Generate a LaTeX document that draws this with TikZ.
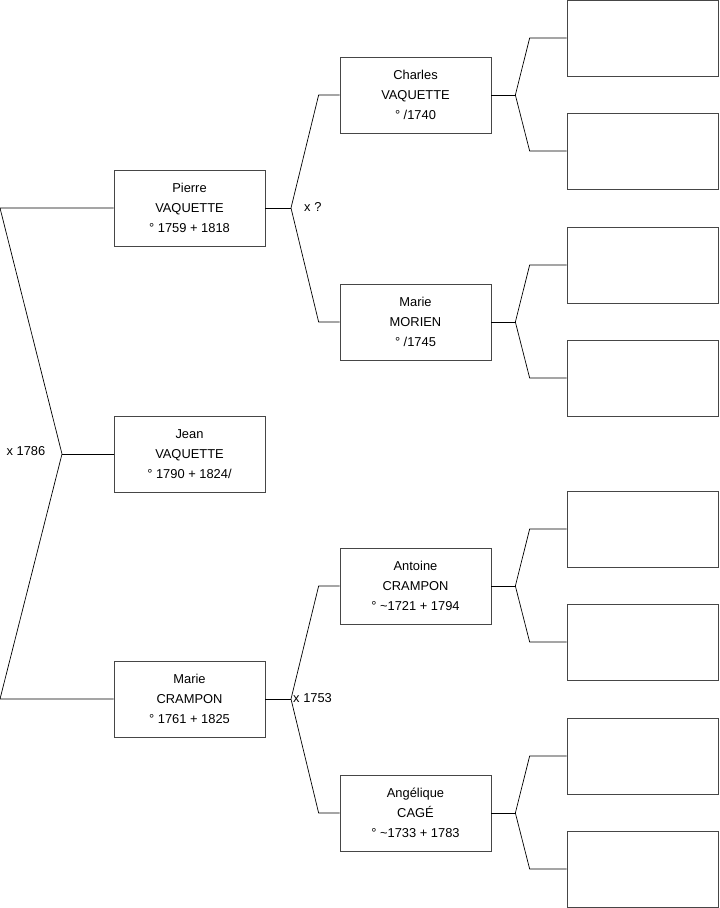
\documentclass[tikz,border=0pt]{standalone}
\usepackage{fontspec}
\setmainfont{Liberation Sans}
\usetikzlibrary{positioning, calc}
\definecolor{boxgray}{RGB}{70,70,70}
\tikzset{
  person/.style={rectangle, draw=boxgray, fill=white,
    minimum width=4.53cm, minimum height=2.28cm, inner sep=0pt,
    align=center, font=\fontsize{11}{17}\selectfont, line width=0.6pt},
  link/.style={line width=0.6pt, color=black},
  union/.style={font=\fontsize{11}{13}\selectfont, inner sep=0pt}
}

\begin{document}
\begin{tikzpicture}[x=0.03cm, y=-0.03cm]
  \useasboundingbox (0,0) rectangle (719,908);

  % generation 1 and 2
  \node[person] (jean) at (189.5,454) {Jean\\VAQUETTE\\° 1790 + 1824/};
  \node[person] (pierre) at (189.5,208) {Pierre\\VAQUETTE\\° 1759 + 1818};
  \node[person] (crampon) at (189.5,699) {Marie\\CRAMPON\\° 1761 + 1825};

  % generation 3
  \node[person] (charles) at (415.5,95) {Charles\\VAQUETTE\\° /1740};
  \node[person] (morien) at (415.5,322) {Marie\\MORIEN\\° /1745};
  \node[person] (antoine) at (415.5,586) {Antoine\\CRAMPON\\° \textasciitilde1721 + 1794};
  \node[person] (cage) at (415.5,813) {Angélique\\CAGÉ\\° \textasciitilde1733 + 1783};

  % generation 4 (empty)
  \foreach \n/\y in {1/38, 2/151, 3/265, 4/378, 5/529, 6/642, 7/756, 8/869}
    \node[person] (e\n) at (642.5,\y) {};

  % brackets
  \coordinate (jj) at (62,454);
  \draw[link] (pierre.west) -- (0,208) -- (jj) -- (0,699) -- (crampon.west);
  \draw[link] (jj) -- (jean.west);
  \node[union] at (26,451) {x 1786};

  \coordinate (pj) at (291,208);
  \draw[link] (pierre.east) -- (pj);
  \draw[link] (charles.west) -- ++(-21,0) -- (pj) -- ($(morien.west)+(-21,0)$) -- (morien.west);
  \node[union, anchor=west] at (304,207) {x ?};

  \coordinate (cj) at (291,699);
  \draw[link] (crampon.east) -- (cj);
  \draw[link] (antoine.west) -- ++(-21,0) -- (cj) -- ($(cage.west)+(-21,0)$) -- (cage.west);
  \node[union, anchor=west] at (293,698) {x 1753};

  \foreach \p/\a/\b in {charles/e1/e2, morien/e3/e4, antoine/e5/e6, cage/e7/e8} {
    \coordinate (\p-j) at ($(\p.east)+(24,0)$);
    \draw[link] (\p.east) -- (\p-j);
    \draw[link] (\a.west) -- ++(-37,0) -- (\p-j) -- ($(\b.west)+(-37,0)$) -- (\b.west);
  }
\end{tikzpicture}
\end{document}
